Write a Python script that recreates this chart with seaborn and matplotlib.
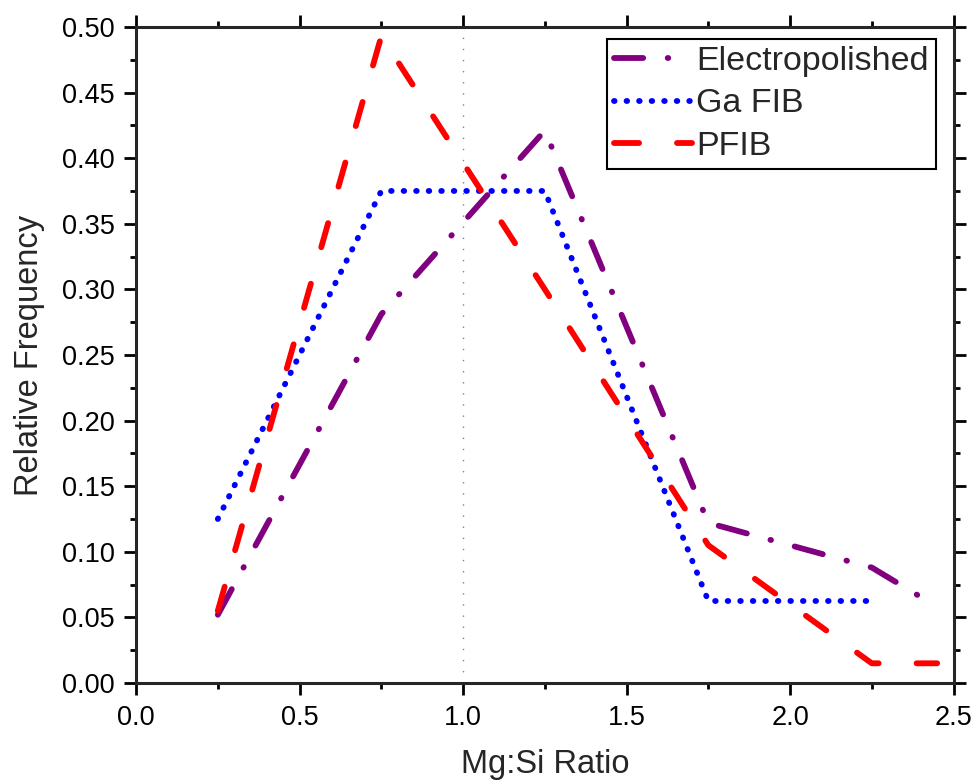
import seaborn as sns
import pandas as pd
import numpy as np
import matplotlib.pyplot as plt
from matplotlib.ticker import MultipleLocator

# Mg:Si ratio histograms (relative frequency at bin centres)
electro_x = [0.25, 0.75, 1.25, 1.75, 2.25, 2.45]
electro_y = [0.052, 0.281, 0.421, 0.122, 0.088, 0.058]

gafib_x = [0.25, 0.75, 1.25, 1.75, 2.25]
gafib_y = [0.125, 0.375, 0.375, 0.0625, 0.0625]

pfib_x = [0.25, 0.75, 1.25, 1.75, 2.25, 2.45]
pfib_y = [0.055, 0.493, 0.300, 0.105, 0.015, 0.015]

labels = ["Electropolished", "Ga FIB", "PFIB"]
colors = ["#800080", "#0000FF", "#FF0000"]

df = pd.concat([
    pd.DataFrame({"ratio": electro_x, "freq": electro_y, "sample": labels[0]}),
    pd.DataFrame({"ratio": gafib_x, "freq": gafib_y, "sample": labels[1]}),
    pd.DataFrame({"ratio": pfib_x, "freq": pfib_y, "sample": labels[2]}),
], ignore_index=True)

sns.set_style("ticks")
plt.rcParams["font.family"] = ["Liberation Sans", "DejaVu Sans"]
plt.rcParams["xtick.direction"] = "out"
plt.rcParams["ytick.direction"] = "out"

fig = plt.figure(figsize=(9.72, 7.81), dpi=100)
ax = fig.add_axes([0.140, 0.1255, 0.841, 0.840])

# dashes in units of line width (round caps)
dash_styles = {
    labels[0]: (5.0, 4.2, 0.1, 4.2),
    labels[1]: (0.1, 2.05),
    labels[2]: (4.3, 6.5),
}

sns.lineplot(df, x="ratio", y="freq", hue="sample", style="sample",
             palette=dict(zip(labels, colors)), dashes=dash_styles,
             linewidth=4.2, sort=False, estimator=None, ax=ax,
             dash_capstyle="round", solid_capstyle="round")

ax.axvline(1.0, color="grey", linewidth=1, linestyle=(0, (1, 7)), zorder=0)

ax.set_xlim(0, 2.5)
ax.set_ylim(0, 0.5)
ax.xaxis.set_major_locator(MultipleLocator(0.5))
ax.xaxis.set_minor_locator(MultipleLocator(0.25))
ax.yaxis.set_major_locator(MultipleLocator(0.05))
ax.yaxis.set_minor_locator(MultipleLocator(0.025))
ax.set_xticks(np.arange(0, 2.51, 0.5))
ax.set_xticklabels([f"{v:.1f}" for v in np.arange(0, 2.51, 0.5)])
ax.set_yticklabels([f"{v:.2f}" for v in ax.get_yticks()])

for s in ax.spines.values():
    s.set_visible(True)
    s.set_linewidth(2.2)
ax.tick_params(which="both", top=True, right=True, width=2, colors="black",
               labelsize=19.5)
ax.tick_params(which="major", length=8.5, pad=7)
ax.tick_params(which="minor", length=4.3)

ax.set_xlabel("Mg:Si Ratio", fontsize=23.5, labelpad=13)
ax.set_ylabel("Relative Frequency", fontsize=23.5, labelpad=12)

sns.move_legend(ax, "upper right", bbox_to_anchor=(0.979, 0.982),
                borderaxespad=0, title=None, frameon=True, fancybox=False,
                edgecolor="black", fontsize=24.5, handlelength=2.3,
                handletextpad=0.12, labelspacing=0.33, borderpad=0.22)
leg = ax.get_legend()
leg.get_frame().set_linewidth(1.5)
leg.get_frame().set_alpha(1)

fig.savefig("out.png", dpi=100)
